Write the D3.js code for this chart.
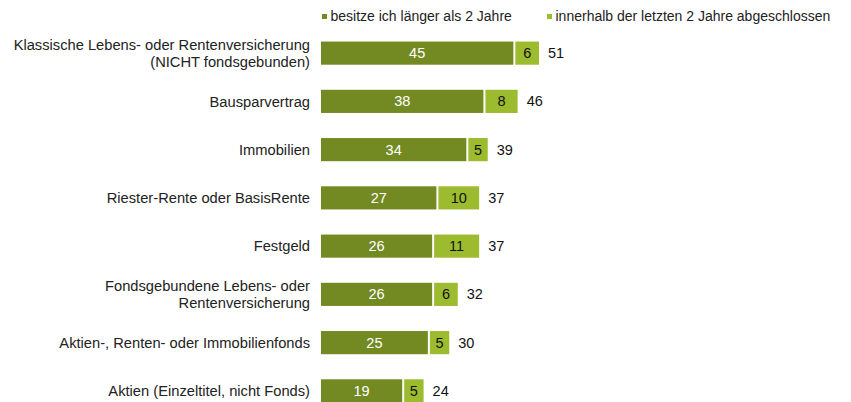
<!DOCTYPE html>
<html>
<head>
<meta charset="utf-8">
<script src="https://cdn.jsdelivr.net/npm/d3@7"></script>
<style>
  body { margin: 0; background: #fff; }
  text { font-family: "Liberation Sans", Arial, sans-serif; }
</style>
</head>
<body>
<div id="chart"></div>
<script>
// data
let categories = [
  ["Klassische Lebens- oder Rentenversicherung", "(NICHT fondsgebunden)"],
  ["Bausparvertrag"],
  ["Immobilien"],
  ["Riester-Rente oder BasisRente"],
  ["Festgeld"],
  ["Fondsgebundene Lebens- oder", "Rentenversicherung"],
  ["Aktien-, Renten- oder Immobilienfonds"],
  ["Aktien (Einzeltitel, nicht Fonds)"]
];
let longer = [45, 38, 34, 27, 26, 26, 25, 19];
let recent = [6, 8, 5, 10, 11, 6, 5, 5];
let totals = [51, 46, 39, 37, 37, 32, 30, 24];
let seriesNames = ["besitze ich länger als 2 Jahre", "innerhalb der letzten 2 Jahre abgeschlossen"];
let colors = ["#738a23", "#9dbb2e"];

let width = 851, height = 402;

let svg = d3.select("#chart").append("svg")
    .attr("width", width)
    .attr("height", height);

let x = d3.scaleLinear().domain([0, 51]).range([321, 539]);
let y = d3.scaleBand()
    .domain(d3.range(categories.length))
    .range([29, 415])
    .paddingInner(0.52)
    .paddingOuter(0.26);

// legend
let legendX = [322, 547];
seriesNames.forEach(function (name, i) {
  svg.append("rect")
      .attr("x", legendX[i])
      .attr("y", 14)
      .attr("width", 5)
      .attr("height", 5)
      .attr("fill", colors[i]);
  svg.append("text")
      .attr("x", legendX[i] + 8.5)
      .attr("y", 16.5)
      .attr("dy", "0.35em")
      .attr("font-size", 14)
      .attr("fill", "#222")
      .text(name);
});

let rows = svg.selectAll("g.row")
    .data(categories)
    .enter()
    .append("g")
    .attr("class", "row");

// category labels
rows.each(function (lines, i) {
  let cy = y(i) + y.bandwidth() / 2;
  let t = d3.select(this).append("text")
      .attr("text-anchor", "end")
      .attr("font-size", 14.7)
      .attr("fill", "#222");
  lines.forEach(function (l, j) {
    t.append("tspan")
        .attr("x", 310)
        .attr("y", cy + (j - (lines.length - 1) / 2) * 17)
        .attr("dy", "0.35em")
        .text(l);
  });
});

// dark segment
rows.append("rect")
    .attr("x", x(0))
    .attr("y", function (d, i) { return y(i); })
    .attr("width", function (d, i) { return x(longer[i]) - x(0); })
    .attr("height", y.bandwidth())
    .attr("fill", colors[0]);

// light segment
rows.append("rect")
    .attr("x", function (d, i) { return x(longer[i]) + 2; })
    .attr("y", function (d, i) { return y(i); })
    .attr("width", function (d, i) { return x(longer[i] + recent[i]) - x(longer[i]) - 2; })
    .attr("height", y.bandwidth())
    .attr("fill", colors[1]);

rows.append("text")
    .attr("x", function (d, i) { return (x(0) + x(longer[i])) / 2; })
    .attr("y", function (d, i) { return y(i) + y.bandwidth() / 2; })
    .attr("dy", "0.35em")
    .attr("text-anchor", "middle")
    .attr("font-size", 14.5)
    .attr("fill", "#fff")
    .text(function (d, i) { return longer[i]; });

rows.append("text")
    .attr("x", function (d, i) { return (x(longer[i]) + 2 + x(longer[i] + recent[i])) / 2; })
    .attr("y", function (d, i) { return y(i) + y.bandwidth() / 2; })
    .attr("dy", "0.35em")
    .attr("text-anchor", "middle")
    .attr("font-size", 14.5)
    .attr("fill", "#111")
    .text(function (d, i) { return recent[i]; });

rows.append("text")
    .attr("x", function (d, i) { return x(totals[i]) + 9; })
    .attr("y", function (d, i) { return y(i) + y.bandwidth() / 2; })
    .attr("dy", "0.35em")
    .attr("font-size", 14.5)
    .attr("fill", "#111")
    .text(function (d, i) { return totals[i]; });
</script>
</body>
</html>
